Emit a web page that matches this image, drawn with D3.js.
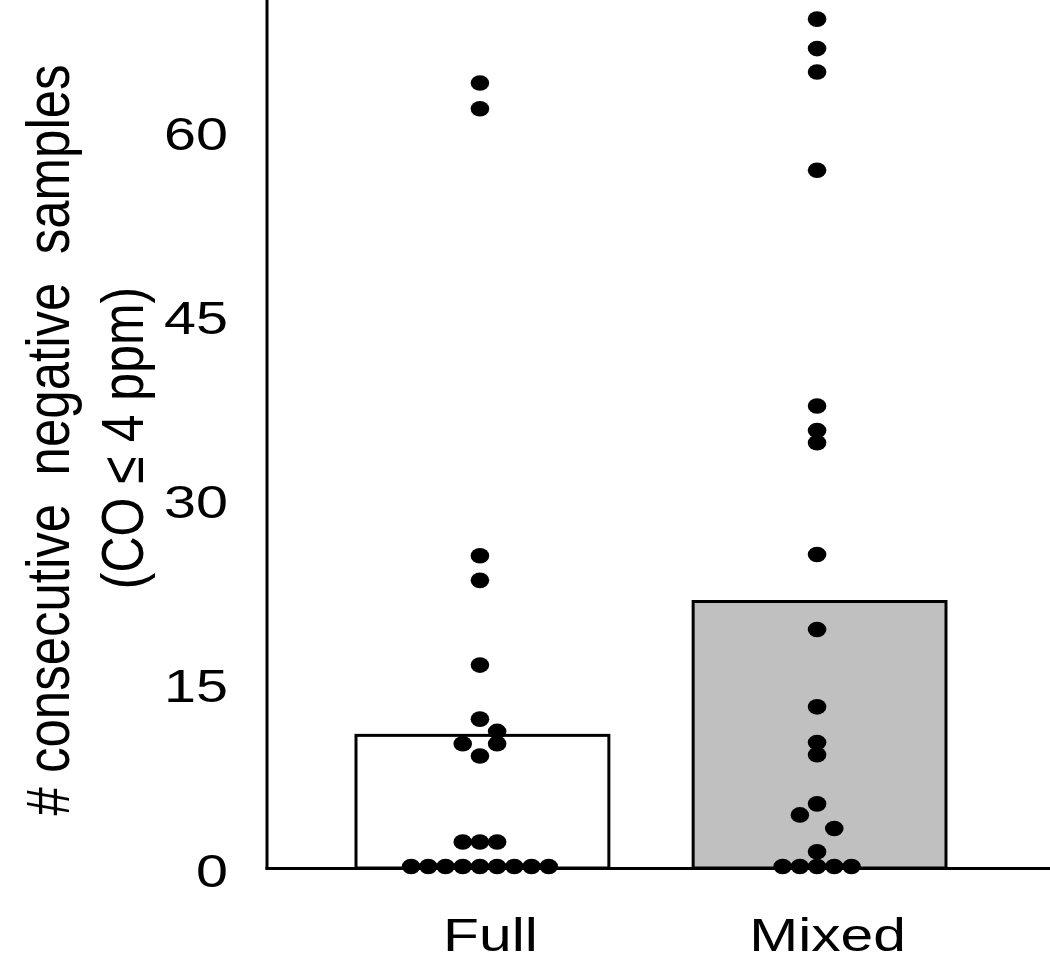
<!DOCTYPE html>
<html>
<head>
<meta charset="utf-8">
<script src="https://cdn.jsdelivr.net/npm/d3@7"></script>
<style>
  html, body { margin: 0; padding: 0; background: #fff; }
  svg { display: block; }
</style>
</head>
<body>
<script>
// ---- data ----
const categories = ["Full", "Mixed"];
const barMeans = [10.8, 21.7];
const yTicks = [0, 15, 30, 45, 60];
const yTitleLine1 = "# consecutive  negative  samples";
const yTitleLine2 = "(CO \u2264 4 ppm)";

const fullValues = [0, 0, 0, 0, 0, 0, 0, 0, 0, 2, 2, 2, 9, 10, 10, 11, 12, 16.4, 23.3, 25.3, 61.7, 63.8];
const fullSlots  = [-4, -3, -2, -1, 0, 1, 2, 3, 4, -1, 0, 1, 0, 1, -1, 1, 0, 0, 0, 0, 0, 0];
const mixedValues = [0, 0, 0, 0, 0, 1.2, 3.1, 4.2, 5.1, 9.1, 10.1, 13.0, 19.3, 25.4, 34.5, 35.5, 37.5, 56.7, 64.7, 66.6, 69.0];
const mixedSlots  = [-2, -1, 0, 1, 2, 0, 1, -1, 0, 0, 0, 0, 0, 0, 0, 0, 0, 0, 0, 0, 0];

const W = 1050, H = 961;
const svg = d3.select("body").append("svg").attr("width", W).attr("height", H);

const axisX = 267, baseY = 868;
const y = d3.scaleLinear().domain([0, 70.68]).range([baseY, 0]);
const x = d3.scaleBand().domain(categories).range([axisX, 1035])
  .paddingInner(0.25).paddingOuter(0.264);

const font = "Arial, 'Liberation Sans', sans-serif";
const stretch = 1.25;

// bars
svg.append("g").selectAll("rect").data(categories).join("rect")
  .attr("x", d => x(d))
  .attr("y", (d, i) => y(barMeans[i]))
  .attr("width", x.bandwidth())
  .attr("height", (d, i) => y(0) - y(barMeans[i]))
  .attr("fill", (d, i) => i === 0 ? "#ffffff" : "#c0c0c0")
  .attr("stroke", "#000").attr("stroke-width", 3);

// dots
const slotW = 17.2;
const pts = [];
fullValues.forEach((v, i) => pts.push({cat: "Full", v, s: fullSlots[i]}));
mixedValues.forEach((v, i) => pts.push({cat: "Mixed", v, s: mixedSlots[i]}));
svg.append("g").selectAll("ellipse").data(pts).join("ellipse")
  .attr("cx", d => x(d.cat) + x.bandwidth() / 2 - 2.5 + d.s * slotW)
  .attr("cy", d => y(d.v) - 1.5)
  .attr("rx", 9.3).attr("ry", 7.8)
  .attr("fill", "#000");

// y axis
const yAxis = svg.append("g").attr("transform", `translate(${axisX},0)`)
  .call(d3.axisLeft(y).tickValues(yTicks).tickSize(0).tickFormat(d3.format("d")));
yAxis.select(".domain").attr("stroke", "#000").attr("stroke-width", 3)
  .attr("d", `M0,${y(0) + 1.5}V0`);
yAxis.selectAll(".tick text")
  .attr("x", 0).attr("dy", "0.35em")
  .attr("transform", `translate(-39,2) scale(${stretch},1)`)
  .attr("font-family", font).attr("font-size", 46).attr("fill", "#000")
  .attr("text-anchor", "end");

// x axis baseline
svg.append("line").attr("x1", axisX - 1.5).attr("x2", W).attr("y1", baseY + 0.5).attr("y2", baseY + 0.5)
  .attr("stroke", "#000").attr("stroke-width", 3);

const xAxis = svg.append("g").attr("transform", `translate(0,${baseY})`)
  .call(d3.axisBottom(x).tickSize(0));
xAxis.select(".domain").remove();
xAxis.selectAll(".tick text")
  .attr("y", 0).attr("dy", 0)
  .attr("transform", `translate(8,83) scale(${stretch},1)`)
  .attr("font-family", font).attr("font-size", 47).attr("fill", "#000")
  .attr("text-anchor", "middle");

// y title
svg.append("text")
  .attr("transform", `translate(69,440) scale(1.2,1) rotate(-90)`)
  .attr("text-anchor", "middle").attr("font-family", font).attr("font-size", 51)
  .attr("fill", "#000").style("white-space", "pre").text(yTitleLine1);
svg.append("text")
  .attr("transform", `translate(143,438) scale(1.2,1) rotate(-90)`)
  .attr("text-anchor", "middle").attr("font-family", font).attr("font-size", 50)
  .attr("fill", "#000").style("white-space", "pre").text(yTitleLine2);
</script>
</body>
</html>
